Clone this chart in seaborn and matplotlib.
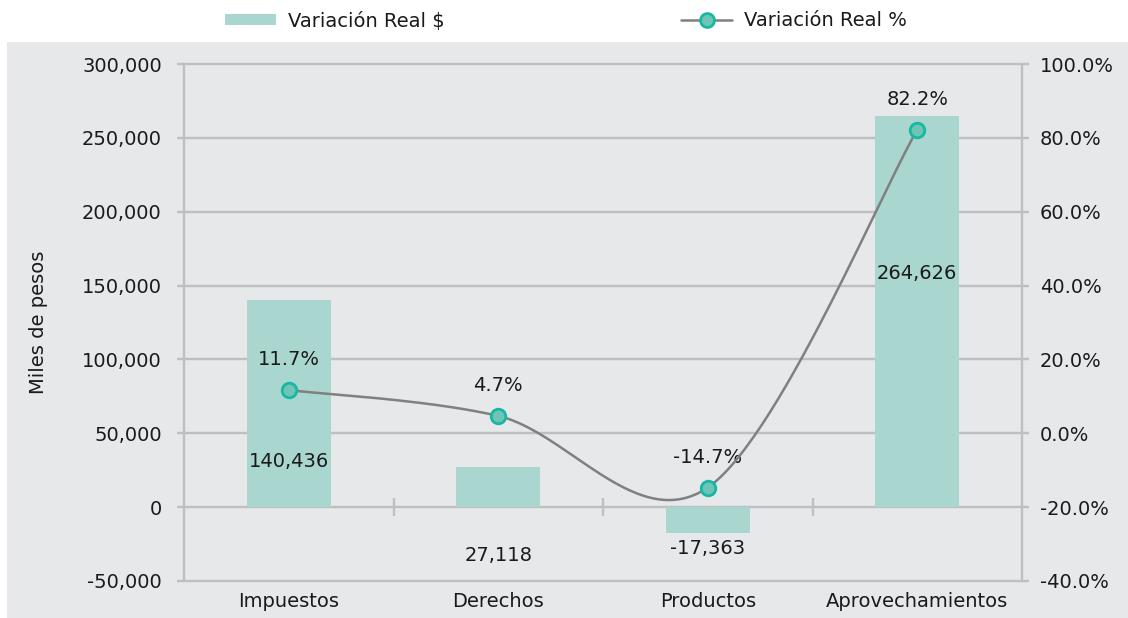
import numpy as np
import pandas as pd
import matplotlib
matplotlib.use("Agg")
import matplotlib.pyplot as plt
from matplotlib.patches import Rectangle, Patch
from matplotlib.lines import Line2D
import matplotlib.ticker as mticker
import seaborn as sns

# ---------------- data ----------------
categories = ["Impuestos", "Derechos", "Productos", "Aprovechamientos"]
var_real_pesos = [140436, 27118, -17363, 264626]
var_real_pct = [11.7, 4.7, -14.7, 82.2]
bar_label_y = [31000, -32500, -27800, 158000]   # where the value labels sit
left_ticks = [-50000, 0, 50000, 100000, 150000, 200000, 250000, 300000]
right_ticks = [-40, -20, 0, 20, 40, 60, 80, 100]

# ---------------- style ----------------
sns.set_theme(style="white")
plt.rcParams['font.family'] = ['DejaVu Sans']
BG = "#e7e8ea"
GRID = "#bfbfbf"
BAR = "#a9d6cf"
MFACE = "#70c4b6"
MEDGE = "#16b8a4"
LINE = "#808080"
TXT = "#1a1a1a"
FS = 14

fig = plt.figure(figsize=(11.28, 6.18), dpi=100)
fig.patch.set_facecolor("white")
fig.add_artist(Rectangle((7 / 1128, 0), 1 - 7 / 1128, 1 - 42 / 618,
                         transform=fig.transFigure, facecolor=BG,
                         edgecolor="none", zorder=-10))

ax = fig.add_axes([184 / 1128, 1 - 581 / 618, (1022 - 184) / 1128, (581 - 64) / 618])
ax.set_facecolor("none")

df = pd.DataFrame({"cat": categories, "val": var_real_pesos})
sns.barplot(data=df, x="cat", y="val", order=categories, color=BAR,
            width=0.4, saturation=1, ax=ax, zorder=3)
for p in ax.patches:
    p.set_edgecolor("none")

ax.set_xlim(-0.5, 3.5)
ax.set_ylim(-50000, 300000)
ax.set_yticks(left_ticks)
ax.yaxis.set_major_formatter(mticker.FuncFormatter(lambda v, p: f"{int(v):,}"))
ax.grid(axis="y", color=GRID, lw=1.7, zorder=0)
ax.grid(axis="x", visible=False)
ax.set_axisbelow(True)
for gl in ax.get_ygridlines():
    gl.set_clip_on(False)
for s in ["top", "bottom"]:
    ax.spines[s].set_visible(False)
for s in ["left", "right"]:
    ax.spines[s].set_color(GRID)
    ax.spines[s].set_linewidth(1.7)
ax.tick_params(axis="y", left=True, length=5, width=1.7, color=GRID,
               labelsize=FS, labelcolor=TXT, pad=11)
ax.tick_params(axis="x", bottom=False, length=0, labelsize=FS,
               labelcolor=TXT, pad=8)
ax.set_xlabel("")
ax.set_ylabel("Miles de pesos", fontsize=FS, color=TXT, labelpad=24)

# category separator ticks on the zero line
sec = ax.secondary_xaxis(50000 / 350000)
sec.set_xticks([0.5, 1.5, 2.5])
sec.set_xticklabels(["", "", ""])
sec.tick_params(axis="x", direction="inout", length=13, width=1.7, color=GRID)
sec.spines["bottom"].set_visible(False)

# bar value labels
for i, (v, y) in enumerate(zip(var_real_pesos, bar_label_y)):
    ax.text(i, y, f"{v:,}", ha="center", va="center", fontsize=FS,
            color=TXT, zorder=6)

# ---------------- secondary axis ----------------
ax2 = ax.twinx()
ax2.set_ylim(-40, 100)
ax2.set_yticks(right_ticks)
ax2.yaxis.set_major_formatter(mticker.FuncFormatter(lambda v, p: f"{v:.1f}%"))
ax2.tick_params(axis="y", right=True, length=5, width=1.7, color=GRID,
                labelsize=FS, labelcolor=TXT, pad=8)
for s in ax2.spines.values():
    s.set_visible(False)
ax2.grid(False)

# smoothed line (cubic Bezier through the points, Catmull-Rom style)
xs = np.arange(len(var_real_pct), dtype=float)
ys = np.array(var_real_pct, dtype=float)
curve_x, curve_y = [], []
n = len(xs)
for i in range(n - 1):
    p0 = np.array([xs[i], ys[i]])
    p1 = np.array([xs[i + 1], ys[i + 1]])
    pm = np.array([xs[i - 1], ys[i - 1]]) if i > 0 else p0
    pp = np.array([xs[i + 2], ys[i + 2]]) if i + 2 < n else p1
    c1 = p0 + (p1 - pm) / 6
    c2 = p1 - (pp - p0) / 6
    t = np.linspace(0, 1, 60)[:, None]
    seg = ((1 - t) ** 3) * p0 + 3 * ((1 - t) ** 2) * t * c1 + 3 * (1 - t) * t ** 2 * c2 + t ** 3 * p1
    curve_x.extend(seg[:, 0])
    curve_y.extend(seg[:, 1])
ax2.plot(curve_x, curve_y, color=LINE, lw=1.8, zorder=4)
sns.scatterplot(x=xs, y=ys, ax=ax2, s=110, color=MFACE, edgecolor=MEDGE,
                linewidth=2, zorder=5, legend=False)
for x, y in zip(xs, ys):
    ax2.annotate(f"{y:.1f}%", (x, y), xytext=(0, 22), textcoords="offset points",
                 ha="center", va="center", fontsize=FS, color=TXT)

# ---------------- legend ----------------
h1 = Patch(facecolor=BAR, edgecolor="none")
h2 = Line2D([0], [0], color=LINE, lw=1.8, marker="o", markersize=10,
            markerfacecolor=MFACE, markeredgecolor=MEDGE, markeredgewidth=2)
fig.legend([h1, h2], ["Variación Real $", "Variación Real %"], ncol=2,
           loc="center", bbox_to_anchor=(566 / 1128, 1 - 21 / 618),
           frameon=False, fontsize=FS, handlelength=2.6, handleheight=0.5,
           columnspacing=12.2, handletextpad=0.6, labelcolor=TXT)

fig.savefig("out.png", dpi=100)
